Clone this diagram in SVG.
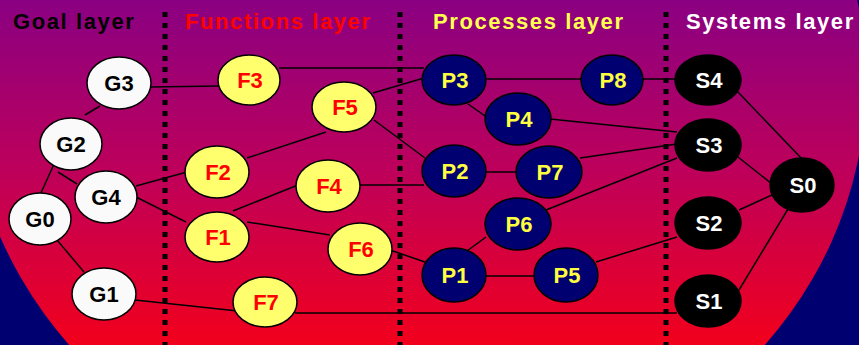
<svg xmlns="http://www.w3.org/2000/svg" width="859" height="345" viewBox="0 0 859 345">
<defs>
<linearGradient id="bg" x1="0" y1="0" x2="0" y2="345" gradientUnits="userSpaceOnUse">
<stop offset="0" stop-color="#8A0082"/>
<stop offset="0.5" stop-color="#BE005A"/>
<stop offset="1" stop-color="#F2001C"/>
</linearGradient>
<style>
.hd{font-family:"Liberation Sans",Arial,sans-serif;font-weight:bold;font-size:22px;letter-spacing:1.6px}
.lb{font-family:"Liberation Sans",Arial,sans-serif;font-weight:bold;font-size:22px;text-anchor:middle}
.n ellipse{stroke:#000;stroke-width:1.5}
.g ellipse{fill:#FAFAFA}.g text{fill:#000}
.f ellipse{fill:#FFFF6E}.f text{fill:#FF0000}
.p ellipse{fill:#000070}.p text{fill:#FFFF40}
.s ellipse{fill:#000}.s text{fill:#FFF}
.dot{stroke:#000;stroke-width:5;stroke-dasharray:5 6;fill:none}
#connectors line{stroke:#000;stroke-width:1.5}
</style>
</defs>
<rect width="859" height="345" fill="#000070"/>
<ellipse cx="417" cy="82" rx="449" ry="416" fill="url(#bg)"/>
<g id="headers">
<text class="hd" x="13" y="29" fill="#000">Goal layer</text>
<text class="hd" x="185" y="29" fill="#FF0000">Functions layer</text>
<text class="hd" x="433" y="29" fill="#FFFF50">Processes layer</text>
<text class="hd" x="686" y="29" fill="#FFFFFF">Systems layer</text>
</g>
<g id="dividers">
<line class="dot" x1="165" y1="12" x2="165" y2="345"/>
<line class="dot" x1="400" y1="12" x2="400" y2="345"/>
<line class="dot" x1="666" y1="12" x2="666" y2="345"/>
</g>
<g id="connectors">
<line x1="85" y1="115" x2="100" y2="106"/>
<line x1="55" y1="162" x2="40" y2="195"/>
<line x1="58" y1="172" x2="77" y2="184"/>
<line x1="57" y1="240" x2="84" y2="272"/>
<line x1="150" y1="87" x2="219" y2="86"/>
<line x1="136" y1="186" x2="187" y2="172"/>
<line x1="136" y1="197" x2="186" y2="222"/>
<line x1="135" y1="300" x2="238" y2="311"/>
<line x1="279" y1="68" x2="424" y2="68"/>
<line x1="373" y1="93" x2="424" y2="78"/>
<line x1="374" y1="120" x2="425" y2="158"/>
<line x1="247" y1="158" x2="326" y2="132"/>
<line x1="359" y1="185" x2="424" y2="185"/>
<line x1="233" y1="211" x2="298" y2="185"/>
<line x1="247" y1="222" x2="330" y2="235"/>
<line x1="390" y1="250" x2="425" y2="262"/>
<line x1="295" y1="313" x2="677" y2="313"/>
<line x1="485" y1="79" x2="677" y2="79"/>
<line x1="468" y1="104" x2="488" y2="118"/>
<line x1="550" y1="119" x2="677" y2="132"/>
<line x1="485" y1="172" x2="518" y2="172"/>
<line x1="580" y1="158" x2="677" y2="144"/>
<line x1="546" y1="210" x2="677" y2="158"/>
<line x1="486" y1="237" x2="467" y2="251"/>
<line x1="485" y1="276" x2="535" y2="276"/>
<line x1="596" y1="262" x2="677" y2="237"/>
<line x1="737" y1="91" x2="803" y2="160"/>
<line x1="738" y1="157" x2="772" y2="184"/>
<line x1="739" y1="210" x2="772" y2="195"/>
<line x1="739" y1="290" x2="788" y2="209"/>
</g>
<g id="G3" class="n g"><ellipse cx="119" cy="83" rx="32" ry="26"/><text class="lb" x="119" y="91">G3</text></g>
<g id="G2" class="n g"><ellipse cx="71" cy="144" rx="31" ry="26"/><text class="lb" x="71" y="152">G2</text></g>
<g id="G4" class="n g"><ellipse cx="106" cy="197" rx="31" ry="26"/><text class="lb" x="106" y="205">G4</text></g>
<g id="G0" class="n g"><ellipse cx="40" cy="219" rx="31" ry="26"/><text class="lb" x="40" y="227">G0</text></g>
<g id="G1" class="n g"><ellipse cx="104" cy="294" rx="32" ry="26"/><text class="lb" x="104" y="302">G1</text></g>
<g id="F3" class="n f"><ellipse cx="249" cy="80" rx="31" ry="25"/><text class="lb" x="250" y="88">F3</text></g>
<g id="F5" class="n f"><ellipse cx="344" cy="107" rx="32" ry="25"/><text class="lb" x="345" y="115">F5</text></g>
<g id="F2" class="n f"><ellipse cx="217" cy="172" rx="32" ry="26"/><text class="lb" x="218" y="180">F2</text></g>
<g id="F4" class="n f"><ellipse cx="328" cy="186" rx="32" ry="26"/><text class="lb" x="329" y="194">F4</text></g>
<g id="F1" class="n f"><ellipse cx="217" cy="237" rx="32" ry="25"/><text class="lb" x="218" y="245">F1</text></g>
<g id="F6" class="n f"><ellipse cx="360" cy="249" rx="32" ry="26"/><text class="lb" x="361" y="257">F6</text></g>
<g id="F7" class="n f"><ellipse cx="265" cy="302" rx="32" ry="25"/><text class="lb" x="266" y="310">F7</text></g>
<g id="P3" class="n p"><ellipse cx="454" cy="80" rx="32" ry="25"/><text class="lb" x="455" y="88">P3</text></g>
<g id="P8" class="n p"><ellipse cx="612" cy="80" rx="31" ry="25"/><text class="lb" x="613" y="88">P8</text></g>
<g id="P4" class="n p"><ellipse cx="518" cy="119" rx="33" ry="26"/><text class="lb" x="519" y="127">P4</text></g>
<g id="P2" class="n p"><ellipse cx="454" cy="171" rx="32" ry="26"/><text class="lb" x="455" y="179">P2</text></g>
<g id="P7" class="n p"><ellipse cx="549" cy="172" rx="33" ry="26"/><text class="lb" x="550" y="180">P7</text></g>
<g id="P6" class="n p"><ellipse cx="518" cy="224" rx="33" ry="26"/><text class="lb" x="519" y="232">P6</text></g>
<g id="P1" class="n p"><ellipse cx="454" cy="275" rx="32" ry="27"/><text class="lb" x="455" y="283">P1</text></g>
<g id="P5" class="n p"><ellipse cx="566" cy="275" rx="32" ry="27"/><text class="lb" x="567" y="283">P5</text></g>
<g id="S4" class="n s"><ellipse cx="708" cy="80" rx="33" ry="25"/><text class="lb" x="709" y="88">S4</text></g>
<g id="S3" class="n s"><ellipse cx="708" cy="145" rx="33" ry="26"/><text class="lb" x="709" y="153">S3</text></g>
<g id="S0" class="n s"><ellipse cx="802" cy="185" rx="32" ry="27"/><text class="lb" x="803" y="193">S0</text></g>
<g id="S2" class="n s"><ellipse cx="708" cy="223" rx="33" ry="26"/><text class="lb" x="709" y="231">S2</text></g>
<g id="S1" class="n s"><ellipse cx="708" cy="301" rx="33" ry="26"/><text class="lb" x="709" y="309">S1</text></g>
</svg>
